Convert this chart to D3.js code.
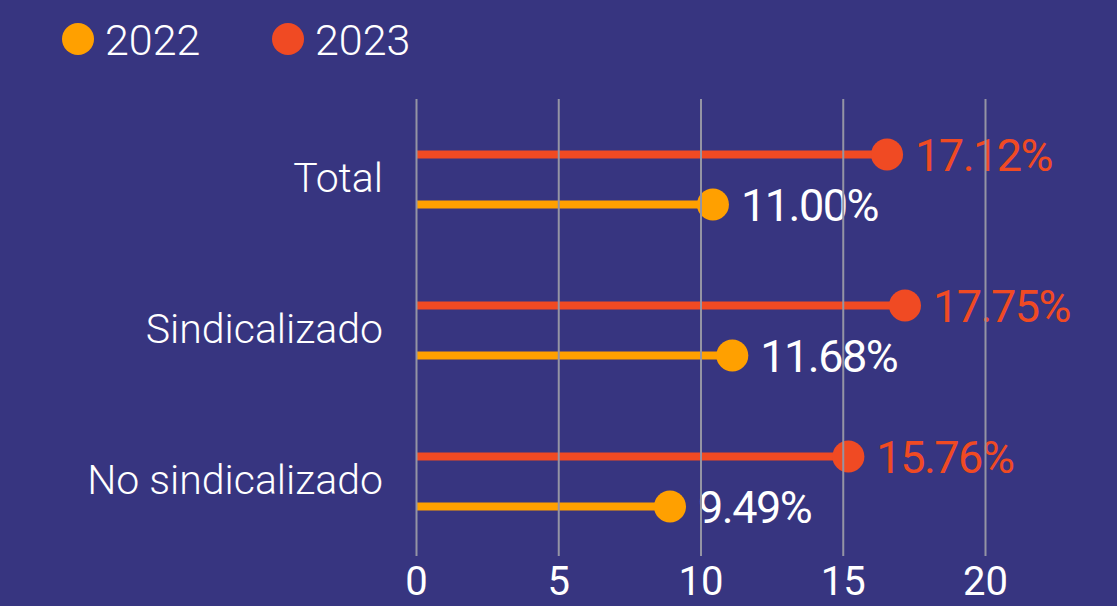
<!DOCTYPE html>
<html>
<head>
<meta charset="utf-8">
<script src="https://cdn.jsdelivr.net/npm/d3@7"></script>
<style>
  html, body { margin: 0; padding: 0; background: #373580; }
  svg { display: block; }
</style>
</head>
<body>
<svg id="chart" width="1117" height="606"></svg>
<script>
// Categories, series and tick labels
const categories = ["Total", "Sindicalizado", "No sindicalizado"];
const years = ["2023", "2022"];
const values2023 = [17.12, 17.75, 15.76];
const values2022 = [11.00, 11.68, 9.49];
const tickValues = [0, 5, 10, 15, 20];
const legendYears = ["2022", "2023"];

const colors = { "2022": "#ffa000", "2023": "#f04a23" };
const labelColors = { "2022": "#ffffff", "2023": "#f04a23" };
const bg = "#373580";
const gridColor = "#9494a4";
const fontFamily = "Roboto, 'Liberation Sans', Arial, sans-serif";

const svg = d3.select("#chart");
const W = 1117, H = 606;
svg.append("rect").attr("width", W).attr("height", H).attr("fill", bg);

const x = d3.scaleLinear().domain([0, 20]).range([416, 985]);
const y = d3.scaleBand().domain(categories).range([104, 557]);
const sub = d3.scalePoint().domain(years).range([-25, 25]);
const r = 16;

const rows = [];
categories.forEach((c, i) => {
  rows.push({ cat: c, year: "2023", value: values2023[i] });
  rows.push({ cat: c, year: "2022", value: values2022[i] });
});
const cy = d => y(d.cat) + y.bandwidth() / 2 + sub(d.year);
// dot sits with its outer edge on the value
const cx = d => x(d.value) - r;

// stems
svg.append("g").selectAll("line").data(rows).join("line")
  .attr("x1", x(0)).attr("x2", cx)
  .attr("y1", cy).attr("y2", cy)
  .attr("stroke", d => colors[d.year])
  .attr("stroke-width", 8);

// dots
svg.append("g").selectAll("circle").data(rows).join("circle")
  .attr("cx", cx).attr("cy", cy).attr("r", r)
  .attr("fill", d => colors[d.year]);

// value labels
svg.append("g").selectAll("text").data(rows).join("text")
  .attr("x", d => cx(d) + r + 12)
  .attr("y", cy)
  .attr("dy", "0.37em")
  .attr("fill", d => labelColors[d.year])
  .attr("font-family", fontFamily)
  .attr("font-size", 45)
  .attr("letter-spacing", "-1.5px")
  .text(d => d.value.toFixed(2) + "%");

// category labels
svg.append("g").selectAll("text").data(categories).join("text")
  .attr("x", 383)
  .attr("y", d => y(d) + y.bandwidth() / 2 + 12)
  .attr("text-anchor", "end")
  .attr("fill", "#ffffff")
  .attr("font-family", fontFamily)
  .attr("font-weight", 300)
  .attr("font-size", 41)
  .text(d => d);

// grid and x axis (drawn over the marks)
const axis = d3.axisBottom(x).tickValues(tickValues).tickSize(-(556 - 99)).tickPadding(11);
const gAxis = svg.append("g").attr("transform", "translate(0,556)").call(axis);
gAxis.select(".domain").remove();
gAxis.selectAll(".tick line").attr("stroke", gridColor).attr("stroke-width", 2);
gAxis.selectAll(".tick text")
  .attr("fill", "#ffffff")
  .attr("font-family", fontFamily)
  .attr("font-size", 40)
  .attr("dy", "0.71em");

// legend
const legend = svg.append("g").selectAll("g").data(legendYears).join("g")
  .attr("transform", (d, i) => `translate(${78 + i * 210},39)`);
legend.append("circle").attr("r", 16).attr("fill", d => colors[d]);
legend.append("text")
  .attr("x", 27).attr("y", 16)
  .attr("fill", "#ffffff")
  .attr("font-family", fontFamily)
  .attr("font-weight", 300)
  .attr("font-size", 43)
  .text(d => d);
</script>
</body>
</html>
